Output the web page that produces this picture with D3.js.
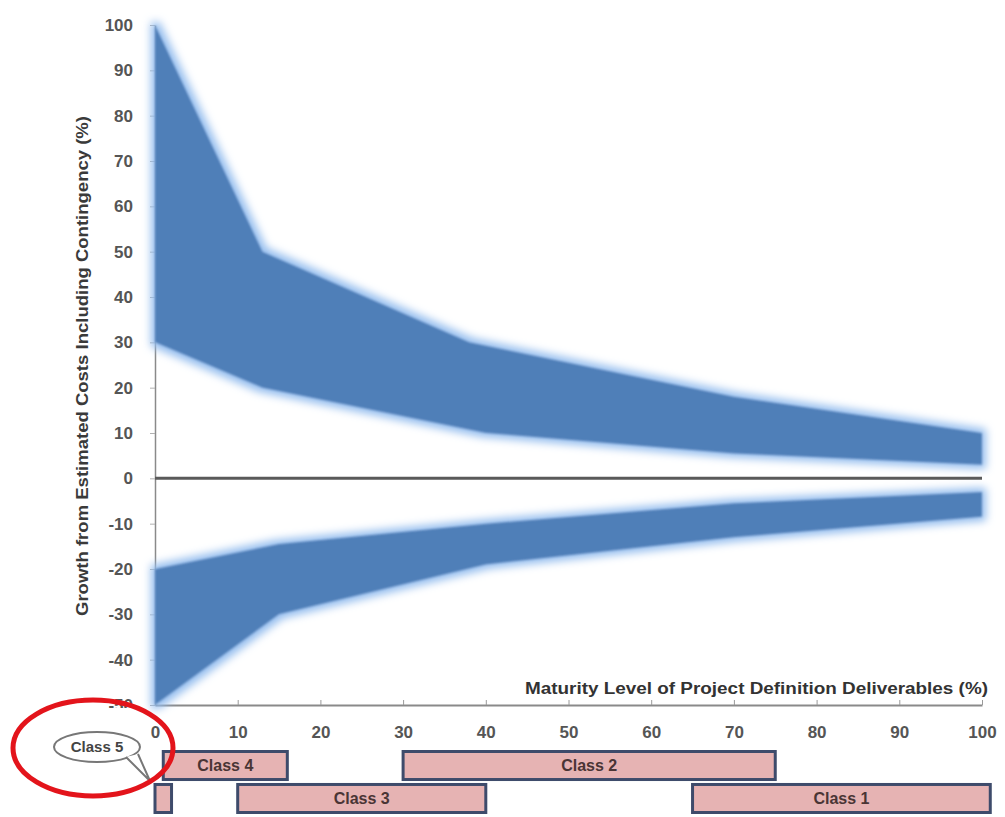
<!DOCTYPE html>
<html>
<head>
<meta charset="utf-8">
<script src="https://cdn.jsdelivr.net/npm/d3@7"></script>
<style>
  body { margin: 0; background: #fff; }
  text { font-family: "Liberation Sans", Arial, sans-serif; }
</style>
</head>
<body>
<div id="chart"></div>
<script>
// Data
const upperTopX = [0, 13, 38, 70, 100];
const upperTopY = [100, 50, 30, 18, 10];
const upperBotX = [0, 13, 40, 70, 100];
const upperBotY = [30, 20, 10, 5.5, 3];
const lowerTopX = [0, 15, 40, 70, 100];
const lowerTopY = [-20, -14.5, -10, -5.5, -3];
const lowerBotX = [0, 15, 40, 70, 100];
const lowerBotY = [-50, -30, -19, -13, -8.5];

const classNames = ["Class 5", "Class 4", "Class 3", "Class 2", "Class 1"];
const classStart = [0, 1, 10, 30, 65];
const classEnd = [2, 16, 40, 75, 101];
const classRow = ["row2", "row1", "row2", "row1", "row2"];

const xTickValues = [0, 10, 20, 30, 40, 50, 60, 70, 80, 90, 100];
const yTickValues = [-50, -40, -30, -20, -10, 0, 10, 20, 30, 40, 50, 60, 70, 80, 90, 100];

const W = 1005, H = 817;

const svg = d3.select("#chart").append("svg")
    .attr("width", W)
    .attr("height", H);

// soft light-blue glow around the bands
const defs = svg.append("defs");
const glow = defs.append("filter")
    .attr("id", "glow")
    .attr("x", "-10%").attr("y", "-10%")
    .attr("width", "120%").attr("height", "120%");
glow.append("feMorphology").attr("in", "SourceAlpha").attr("operator", "dilate").attr("radius", 4).attr("result", "d");
glow.append("feGaussianBlur").attr("in", "d").attr("stdDeviation", 4).attr("result", "b");
glow.append("feFlood").attr("flood-color", "#94bdee");
glow.append("feComposite").attr("in2", "b").attr("operator", "in").attr("result", "g");
glow.append("feGaussianBlur").attr("in", "SourceGraphic").attr("stdDeviation", 0.8).attr("result", "s");
const merge = glow.append("feMerge");
merge.append("feMergeNode").attr("in", "g");
merge.append("feMergeNode").attr("in", "s");

defs.append("clipPath").attr("id", "yclip")
    .append("rect").attr("x", -200).attr("y", -50).attr("width", 400).attr("height", 758);

// Scales
const x = d3.scaleLinear().domain([0, 100]).range([155, 982]);
const y = d3.scaleLinear().domain([-50, 100]).range([705, 25]);

// Axes
const yAxis = svg.append("g")
    .attr("transform", `translate(${x(0)},0)`)
    .attr("clip-path", "url(#yclip)")
    .call(d3.axisLeft(y).tickValues(yTickValues).tickSizeInner(5).tickSizeOuter(0)
        .tickPadding(17).tickFormat(d => String(d)));

yAxis.select(".domain").attr("stroke", "#8a8a8a").attr("stroke-width", 1.5);
yAxis.selectAll(".tick line").attr("stroke", "#b0b0b0");
yAxis.selectAll(".tick text")
    .attr("fill", "#555")
    .style("font-size", "17px")
    .style("font-weight", "bold");

const xAxis = svg.append("g")
    .attr("transform", `translate(0,${y(-50)})`)
    .call(d3.axisBottom(x).tickValues(xTickValues).tickSizeInner(-5).tickSizeOuter(0).tickPadding(21));

xAxis.select(".domain").attr("stroke", "#8a8a8a").attr("stroke-width", 2);
xAxis.selectAll(".tick line").attr("stroke", "#9a9a9a");
xAxis.selectAll(".tick text")
    .attr("fill", "#555")
    .style("font-size", "17px")
    .style("font-weight", "bold");

// Bands
const line = d3.line().x(d => x(d[0])).y(d => y(d[1]));

function bandPoints(tx, ty, bx, by) {
    const top = tx.map((v, i) => [v, ty[i]]);
    const bot = bx.map((v, i) => [v, by[i]]).reverse();
    return top.concat(bot);
}

const bands = [
    bandPoints(upperTopX, upperTopY, upperBotX, upperBotY),
    bandPoints(lowerTopX, lowerTopY, lowerBotX, lowerBotY)
];

svg.append("g")
    .attr("filter", "url(#glow)")
    .selectAll("path")
    .data(bands)
    .join("path")
    .attr("d", d => line(d) + "Z")
    .attr("fill", "#4f7fb8");

// zero line
svg.append("line")
    .attr("x1", x(0)).attr("x2", x(100))
    .attr("y1", y(0)).attr("y2", y(0))
    .attr("stroke", "#5a5a5a")
    .attr("stroke-width", 3);

// Axis titles
svg.append("text")
    .attr("transform", `translate(88,${366}) rotate(-90)`)
    .attr("text-anchor", "middle")
    .attr("textLength", 500)
    .attr("lengthAdjust", "spacingAndGlyphs")
    .attr("fill", "#3a3a3a")
    .style("font-size", "16px")
    .style("font-weight", "bold")
    .text("Growth from Estimated Costs Including Contingency (%)");

svg.append("text")
    .attr("x", 988)
    .attr("y", 694)
    .attr("text-anchor", "end")
    .attr("textLength", 463)
    .attr("lengthAdjust", "spacingAndGlyphs")
    .attr("fill", "#333")
    .style("font-size", "16px")
    .style("font-weight", "bold")
    .text("Maturity Level of Project Definition Deliverables (%)");

// Class bars
const row = d3.scaleBand()
    .domain(["row1", "row2"])
    .range([751.5, 812.5])
    .paddingInner(0.15);

const bars = svg.append("g");
classNames.forEach((name, i) => {
    bars.append("rect")
        .attr("x", x(classStart[i]))
        .attr("y", row(classRow[i]))
        .attr("width", x(classEnd[i]) - x(classStart[i]))
        .attr("height", row.bandwidth())
        .attr("fill", "#e6b3b3")
        .attr("stroke", "#3e4b6b")
        .attr("stroke-width", 3);

    if (name !== "Class 5") {
        bars.append("text")
            .attr("x", (x(classStart[i]) + x(classEnd[i])) / 2)
            .attr("y", row(classRow[i]) + row.bandwidth() / 2)
            .attr("dy", "0.36em")
            .attr("text-anchor", "middle")
            .attr("fill", "#4a3535")
            .style("font-size", "16px")
            .style("font-weight", "bold")
            .text(name);
    }
});

// Class 5 callout
const callout = svg.append("g");
callout.append("ellipse")
    .attr("cx", 97).attr("cy", 747)
    .attr("rx", 43).attr("ry", 15)
    .attr("fill", "#fff")
    .attr("stroke", "#777")
    .attr("stroke-width", 2);
callout.append("path")
    .attr("d", "M126,757 L150,781 L138,754")
    .attr("fill", "#fff")
    .attr("stroke", "#777")
    .attr("stroke-width", 2);
callout.append("text")
    .attr("x", 97).attr("y", 747)
    .attr("dy", "0.36em")
    .attr("text-anchor", "middle")
    .attr("fill", "#444")
    .style("font-size", "15px")
    .style("font-weight", "bold")
    .text("Class 5");

svg.append("ellipse")
    .attr("cx", 93).attr("cy", 748)
    .attr("rx", 80).attr("ry", 48)
    .attr("fill", "none")
    .attr("stroke", "#e3141b")
    .attr("stroke-width", 5);
</script>
</body>
</html>
